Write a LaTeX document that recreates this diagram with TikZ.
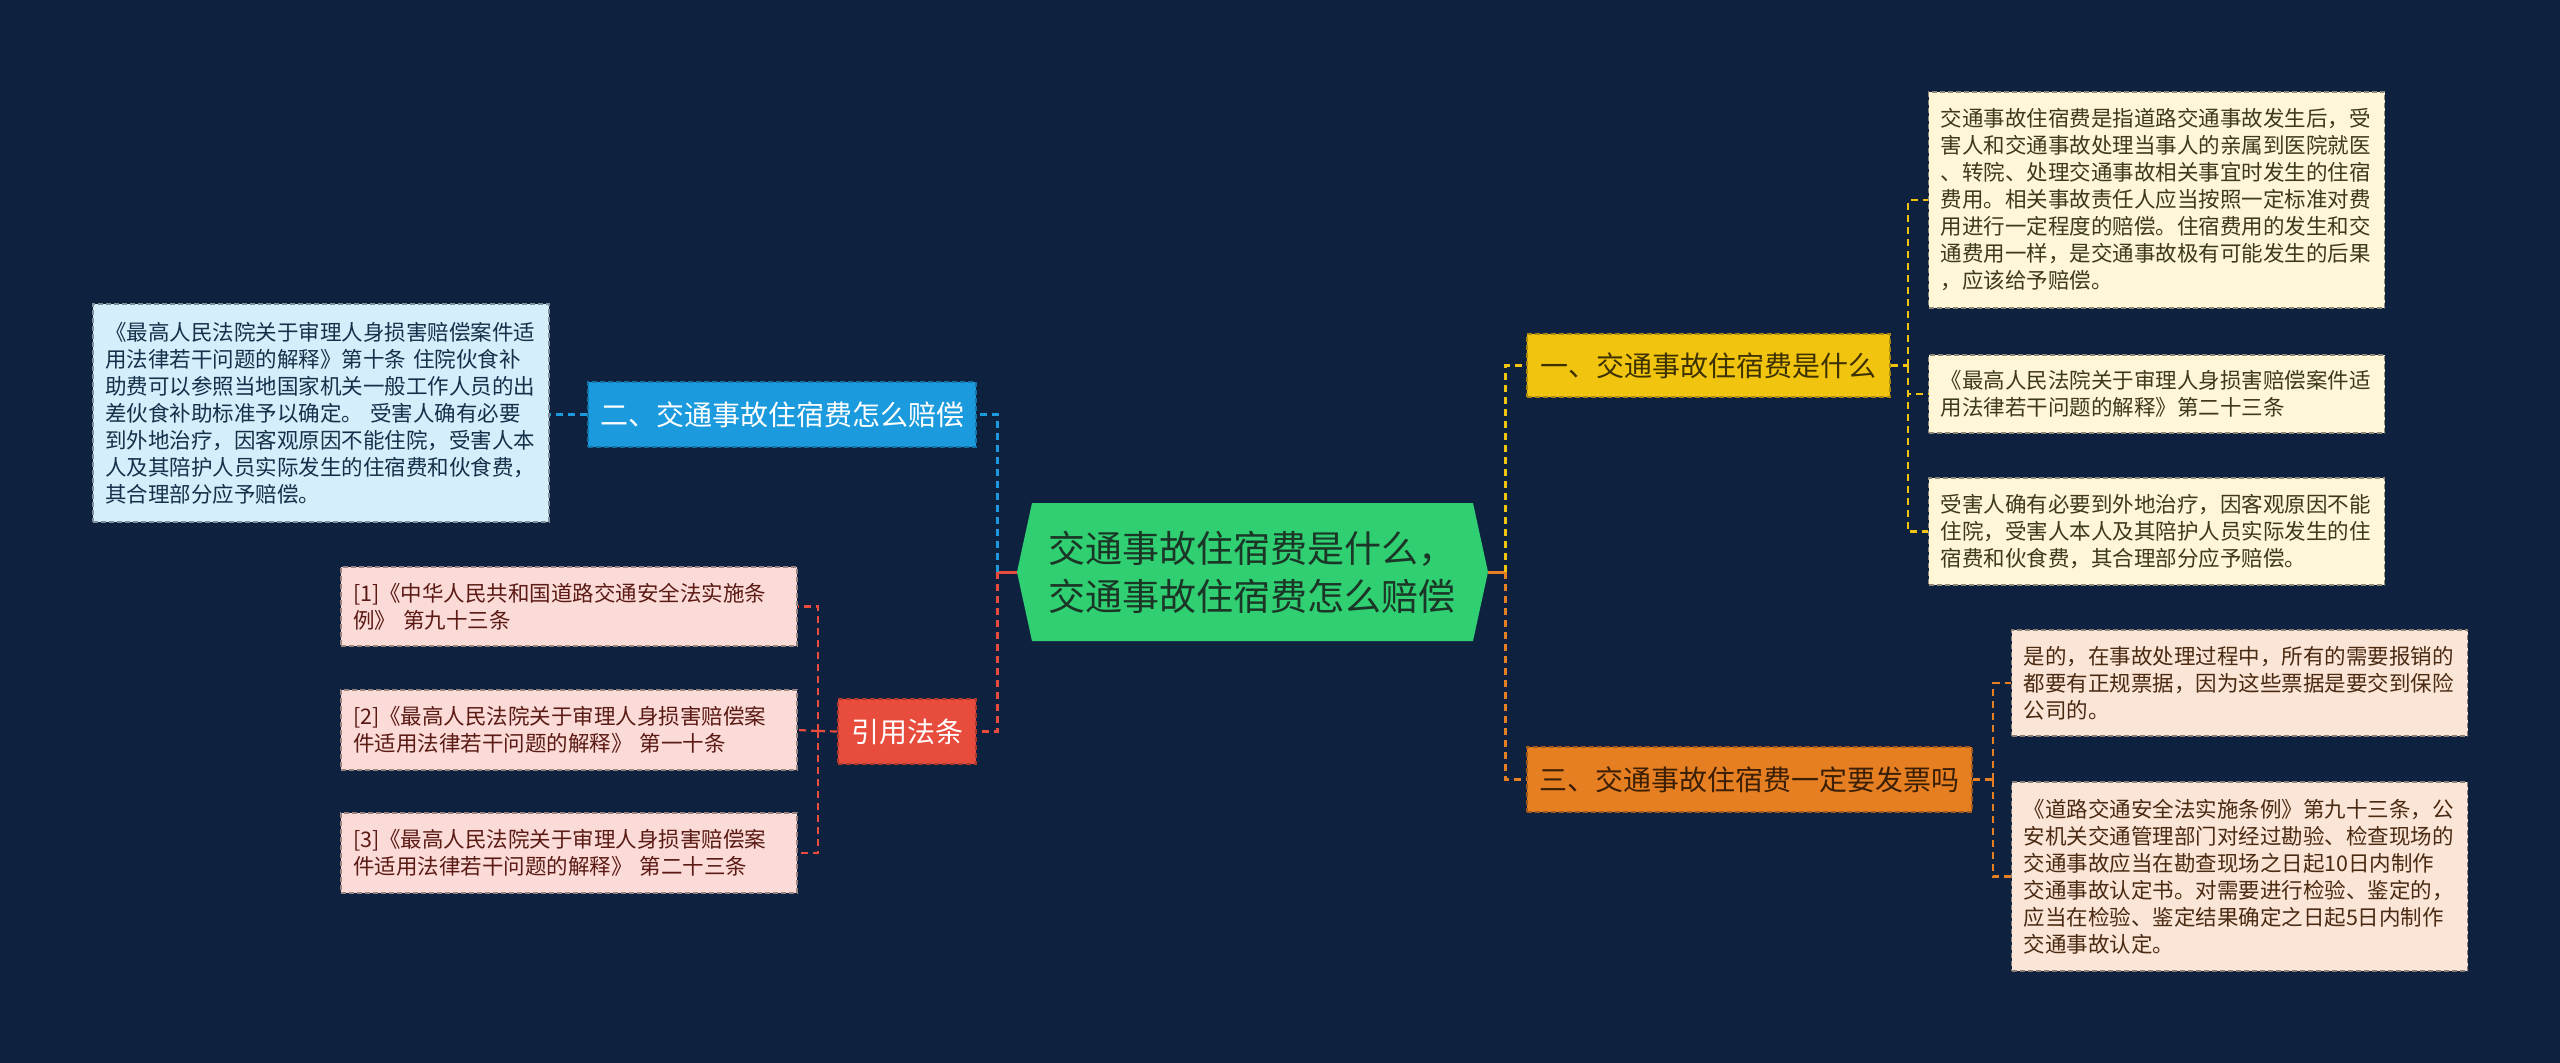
\documentclass[tikz,border=0pt]{standalone}
\usepackage{fontspec}
\setmainfont{Noto Sans CJK SC}
\definecolor{bg}{HTML}{0E2240}
\definecolor{cgreen}{HTML}{2FCF72}
\definecolor{cgreentext}{HTML}{1B3526}
\definecolor{cblue}{HTML}{1B9BDE}
\definecolor{cred}{HTML}{E74C3C}
\definecolor{cyellow}{HTML}{F1C40F}
\definecolor{corange}{HTML}{E67E22}
\definecolor{lblue}{HTML}{D5EEFB}
\definecolor{lpink}{HTML}{FADBD8}
\definecolor{lcream}{HTML}{FEF6D6}
\definecolor{lpeach}{HTML}{FBE5D6}
\definecolor{tblue}{HTML}{16304A}
\definecolor{tpink}{HTML}{5B1A14}
\definecolor{tcream}{HTML}{3D3A1A}
\definecolor{tpeach}{HTML}{4A2A12}
\definecolor{tyellow}{HTML}{3D3100}
\definecolor{torange}{HTML}{3B1F05}
\newcommand\myBig{\fontsize{37}{48}\selectfont}
\newcommand\myMid{\fontsize{28}{34}\selectfont}
\newcommand\mySmall{\fontsize{21.5}{27}\selectfont}
\begin{document}
\begin{tikzpicture}[x=1pt,y=-1pt,
  boxbase/.style={line width=1.6pt, dash pattern=on 5pt off 3pt, inner xsep=12pt, inner ysep=0pt},
  topic/.style={boxbase, font=\myMid, align=center},
  leaf/.style={boxbase, font=\mySmall, align=left, text width=432pt, minimum width=456pt},
  mainlink/.style={line width=3pt, dash pattern=on 7pt off 5pt},
  sublink/.style={line width=2.2pt, dash pattern=on 7pt off 5pt},
  solidlink/.style={line width=3pt}]
\fill[bg] (0,0) rectangle (2560,1063);
\useasboundingbox (0,0) rectangle (2560,1063);

% central hexagon
\coordinate (rootl) at (1017,572);
\coordinate (rootr) at (1488,572);
\fill[cgreen] (rootl) -- (1032,503) -- (1473,503) -- (rootr) -- (1473,641) -- (1032,641) -- cycle;
\node[font=\myBig, text=cgreentext, align=center] (root) at (1252,572)
  {交通事故住宿费是什么，\\交通事故住宿费怎么赔偿};

% left topics
\node[topic, fill=cblue, draw=cblue!75!black, text=white, minimum width=388pt, minimum height=65pt] (blue) at (782,414.5) {二、交通事故住宿费怎么赔偿};
\node[topic, fill=cred, draw=cred!75!black, text=white, minimum width=138pt, minimum height=65pt] (cite) at (907,731.5) {引用法条};

% left leaves
\node[leaf, fill=lblue, draw=lblue!60!black, text=tblue, minimum height=218pt] (lb) at (321,413)
  {《最高人民法院关于审理人身损害赔偿案件适\\用法律若干问题的解释》第十条 住院伙食补\\助费可以参照当地国家机关一般工作人员的出\\差伙食补助标准予以确定。 受害人确有必要\\到外地治疗，因客观原因不能住院，受害人本\\人及其陪护人员实际发生的住宿费和伙食费，\\其合理部分应予赔偿。};
\node[leaf, fill=lpink, draw=lpink!60!black, text=tpink, minimum height=79pt] (p1) at (569,606.5)
  {[1]《中华人民共和国道路交通安全法实施条\\例》 第九十三条};
\node[leaf, fill=lpink, draw=lpink!60!black, text=tpink, minimum height=80pt] (p2) at (569,730)
  {[2]《最高人民法院关于审理人身损害赔偿案\\件适用法律若干问题的解释》 第一十条};
\node[leaf, fill=lpink, draw=lpink!60!black, text=tpink, minimum height=80pt] (p3) at (569,853)
  {[3]《最高人民法院关于审理人身损害赔偿案\\件适用法律若干问题的解释》 第二十三条};

% right topics
\node[topic, fill=cyellow, draw=cyellow!70!black, text=tyellow, minimum width=363pt, minimum height=63pt] (yel) at (1708.5,365.5) {一、交通事故住宿费是什么};
\node[topic, fill=corange, draw=corange!70!black, text=torange, minimum width=445pt, minimum height=65pt] (ora) at (1749.5,779.5) {三、交通事故住宿费一定要发票吗};

% right leaves
\node[leaf, fill=lcream, draw=lcream!55!black, text=tcream, minimum height=216pt] (ya) at (2156.5,200)
  {交通事故住宿费是指道路交通事故发生后，受\\害人和交通事故处理当事人的亲属到医院就医\\、转院、处理交通事故相关事宜时发生的住宿\\费用。相关事故责任人应当按照一定标准对费\\用进行一定程度的赔偿。住宿费用的发生和交\\通费用一样，是交通事故极有可能发生的后果\\，应该给予赔偿。};
\node[leaf, fill=lcream, draw=lcream!55!black, text=tcream, minimum height=78pt] (yb) at (2156.5,394)
  {《最高人民法院关于审理人身损害赔偿案件适\\用法律若干问题的解释》第二十三条};
\node[leaf, fill=lcream, draw=lcream!55!black, text=tcream, minimum height=107pt] (yc) at (2156.5,531.5)
  {受害人确有必要到外地治疗，因客观原因不能\\住院，受害人本人及其陪护人员实际发生的住\\宿费和伙食费，其合理部分应予赔偿。};
\node[leaf, fill=lpeach, draw=lpeach!55!black, text=tpeach, minimum height=106pt] (od) at (2239.5,683)
  {是的，在事故处理过程中，所有的需要报销的\\都要有正规票据，因为这些票据是要交到保险\\公司的。};
\node[leaf, fill=lpeach, draw=lpeach!55!black, text=tpeach, minimum height=189pt] (oe) at (2239.5,876.5)
  {《道路交通安全法实施条例》第九十三条，公\\安机关交通管理部门对经过勘验、检查现场的\\交通事故应当在勘查现场之日起10日内制作\\交通事故认定书。对需要进行检验、鉴定的，\\应当在检验、鉴定结果确定之日起5日内制作\\交通事故认定。};

% junctions
\coordinate (jl) at (997,572);
\coordinate (jr) at (1505,572);
\coordinate (jp) at (818,731);
\coordinate (jy) at (1908,365.5);
\coordinate (jo) at (1993,779.5);

% left connectors
\draw[solidlink, cred] (rootl) -- (jl);
\draw[mainlink, cblue] (jl) |- (blue.east);
\draw[mainlink, cred] (jl) |- (cite.east);
\draw[mainlink, cblue] (blue.west) -- (lb.east |- blue.west);
\draw[sublink, cred] (cite.west) -- (jp);
\draw[sublink, cred] (jp) |- (p1.east);
\draw[sublink, cred] (jp) |- (p3.east);
\draw[sublink, cred] (jp) -- (p2.east);

% right connectors
\draw[solidlink, corange] (rootr) -- (jr);
\draw[mainlink, cyellow] (jr) |- (yel.west);
\draw[mainlink, corange] (jr) |- (ora.west);
\draw[sublink, cyellow] (yel.east) -- (jy);
\draw[sublink, cyellow] (jy) |- (ya.west);
\draw[sublink, cyellow] (jy) |- (yb.west);
\draw[sublink, cyellow] (jy) |- (yc.west);
\draw[sublink, corange] (ora.east) -- (jo);
\draw[sublink, corange] (jo) |- (od.west);
\draw[sublink, corange] (jo) |- (oe.west);
\end{tikzpicture}
\end{document}
